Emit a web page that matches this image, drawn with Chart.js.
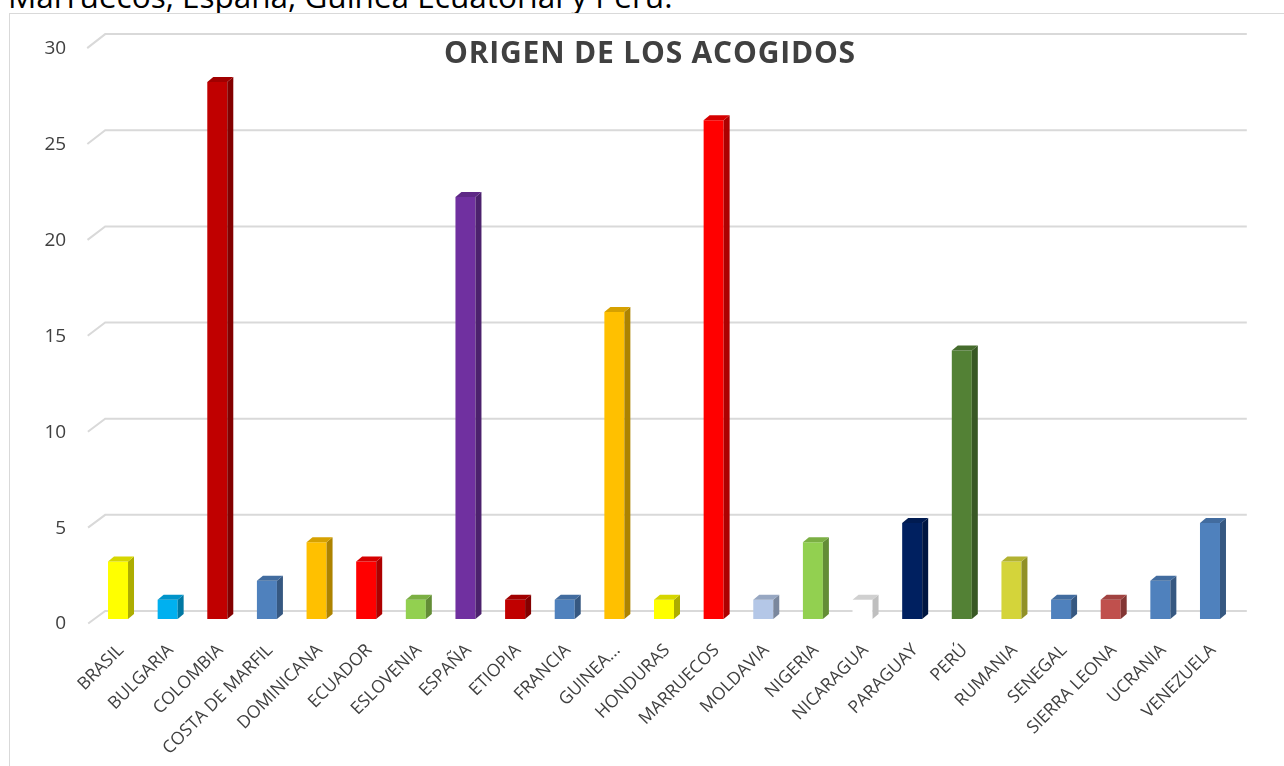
<!DOCTYPE html>
<html>
<head>
<meta charset="utf-8">
<script src="https://cdn.jsdelivr.net/npm/chart.js@4.4.0/dist/chart.umd.min.js"></script>
<style>
  html, body { margin: 0; padding: 0; background: #fff; overflow: hidden; }
  #wrap { position: relative; width: 1284px; height: 766px; overflow: hidden; }
  #intro { position: absolute; left: 8px; top: -24px; font: 31.5px/40px "Open Sans", sans-serif; color: #000; white-space: nowrap; }
  #frame { position: absolute; left: 9px; top: 13px; width: 1400px; height: 900px; border: 1px solid #d9d9d9; background: #fff; }
  #title { position: absolute; left: 0; width: 1300px; top: 31px; text-align: center; font: bold 30px "Open Sans", sans-serif; letter-spacing: 0.8px; color: #404040; }
  canvas { position: absolute; left: 0; top: 0; }
</style>
</head>
<body>
<div id="wrap">
  <div id="intro">Marruecos, España, Guinea Ecuatorial y Perú.</div>
  <div id="frame"></div>
  <canvas id="chart" width="1284" height="766"></canvas>
  <div id="title">ORIGEN DE LOS ACOGIDOS</div>
</div>
<script>
const categories = ['BRASIL', 'BULGARIA', 'COLOMBIA', 'COSTA DE MARFIL', 'DOMINICANA', 'ECUADOR', 'ESLOVENIA',
  'ESPAÑA', 'ETIOPIA', 'FRANCIA', 'GUINEA...', 'HONDURAS', 'MARRUECOS', 'MOLDAVIA', 'NIGERIA', 'NICARAGUA',
  'PARAGUAY', 'PERÚ', 'RUMANIA', 'SENEGAL', 'SIERRA LEONA', 'UCRANIA', 'VENEZUELA'];
const values = [3, 1, 28, 2, 4, 3, 1, 22, 1, 1, 16, 1, 26, 1, 4, 1, 5, 14, 3, 1, 1, 2, 5];
const barColors = ['#FFFF00', '#00B0F0', '#C00000', '#4F81BD', '#FFC000', '#FF0000', '#92D050',
  '#7030A0', '#C00000', '#4F81BD', '#FFC000', '#FFFF00', '#FF0000', '#B4C7E7', '#92D050', '#FFFFFF',
  '#002060', '#538135', '#D4D43A', '#4F81BD', '#C0504D', '#4F81BD', '#4F81BD'];
const yTicks = { min: 0, max: 30, step: 5 };

// darken a hex colour for the side / top faces
function shade(hex, f) {
  const n = parseInt(hex.slice(1), 16);
  const r = Math.round(((n >> 16) & 255) * f);
  const g = Math.round(((n >> 8) & 255) * f);
  const b = Math.round((n & 255) * f);
  return `rgb(${r},${g},${b})`;
}

const depthX = 6, depthY = 5;

const bar3d = {
  id: 'bar3d',
  beforeDatasetsDraw(chart) {
    const { ctx, chartArea, scales: { y } } = chart;
    ctx.save();
    ctx.strokeStyle = '#d9d9d9';
    ctx.lineWidth = 2;
    y.ticks.forEach(t => {
      const py = y.getPixelForValue(t.value);
      const k = t.value / y.max;
      const back = py - 8 - 1.5 * k;
      ctx.beginPath();
      ctx.moveTo(chartArea.left - 5 - k, py + 4.5);
      ctx.lineTo(chartArea.left + 12, back);
      ctx.lineTo(chartArea.right + 12, back);
      ctx.stroke();
    });
    ctx.restore();
  },
  afterDatasetsDraw(chart) {
    const { ctx } = chart;
    const meta = chart.getDatasetMeta(0);
    ctx.save();
    meta.data.forEach((bar, i) => {
      const { x, y, base, width } = bar.getProps(['x', 'y', 'base', 'width'], true);
      const l = x - width / 2, r = x + width / 2;
      const col = barColors[i];
      // side
      ctx.fillStyle = col === '#FFFFFF' ? '#BFBFBF' : shade(col, 0.68);
      ctx.beginPath();
      ctx.moveTo(r, y);
      ctx.lineTo(r + depthX, y - depthY);
      ctx.lineTo(r + depthX, base - depthY);
      ctx.lineTo(r, base);
      ctx.closePath();
      ctx.fill();
      // top
      ctx.fillStyle = col === '#FFFFFF' ? '#D0D0D0' : shade(col, 0.84);
      ctx.beginPath();
      ctx.moveTo(l, y);
      ctx.lineTo(l + depthX, y - depthY);
      ctx.lineTo(r + depthX, y - depthY);
      ctx.lineTo(r, y);
      ctx.closePath();
      ctx.fill();
    });
    ctx.restore();
  }
};

new Chart(document.getElementById('chart'), {
  type: 'bar',
  data: {
    labels: categories,
    datasets: [{
      data: values,
      backgroundColor: barColors,
      borderWidth: 0,
      barPercentage: 0.403,
      categoryPercentage: 1
    }]
  },
  options: {
    responsive: false,
    devicePixelRatio: 1,
    animation: false,
    layout: { padding: { left: 0, right: 49.2, top: 43.6, bottom: 0 } },
    plugins: { legend: { display: false }, tooltip: { enabled: false }, title: { display: false } },
    scales: {
      x: {
        grid: { display: false, drawTicks: false },
        border: { display: false },
        ticks: {
          autoSkip: false, minRotation: 45, maxRotation: 45,
          padding: 21, labelOffset: 3,
          color: '#404040', font: { family: 'Open Sans', size: 17.5 }
        },
        afterFit: s => { s.height = 147; }
      },
      y: {
        min: yTicks.min, max: yTicks.max,
        grid: { display: false, drawTicks: false },
        border: { display: false },
        ticks: {
          stepSize: yTicks.step, padding: 27, labelOffset: 5,
          color: '#404040', font: { family: 'Open Sans', size: 19 }
        },
        afterFit: s => { s.width = 93.2; }
      }
    }
  },
  plugins: [bar3d]
});
</script>
</body>
</html>
